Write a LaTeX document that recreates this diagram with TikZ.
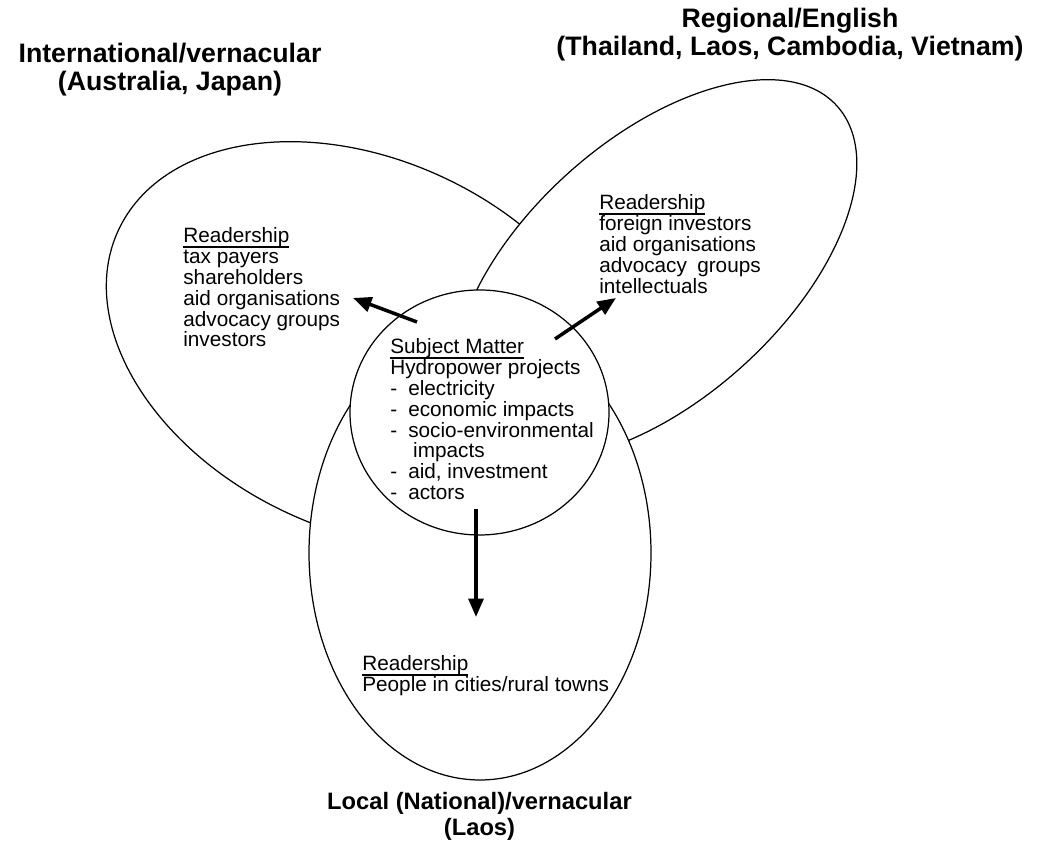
\documentclass[tikz,border=0pt]{standalone}
\usepackage{fontspec}
\setmainfont{Liberation Sans}
\usepackage{tikz}
\usetikzlibrary{arrows.meta, shapes.geometric}

\newcommand{\ulhead}[1]{\leavevmode\vtop{\hbox{#1}\kern-0.6pt\hrule height 1.1pt}}
\newcommand{\itm}{\makebox[10.2pt][l]{-}}

\tikzset{
  zone/.style={draw, ellipse, fill=white, line width=0.7pt, inner sep=0pt},
  readers/.style={anchor=north west, align=left, inner sep=0pt,
    font=\fontsize{11.8}{11.9}\selectfont},
  heading/.style={anchor=base, align=center, inner sep=0pt,
    font=\fontsize{15.2}{16}\selectfont\bfseries},
  flow/.style={line width=2pt, -{Triangle[length=10.5pt, width=8.5pt]}}
}

\begin{document}
\begin{tikzpicture}
    \useasboundingbox (0,0) rectangle (20.78,16.9);
    % language zones, back to front
    \node[zone, minimum width=10.88cm, minimum height=7.4cm, rotate=-25] (intl) at (7.30,10.00) {};
    \node[zone, minimum width=9.8cm, minimum height=5.2cm, rotate=42] (regl) at (13.10,11.50) {};
    \node[zone, minimum width=6.84cm, minimum height=9.08cm] (locl) at (9.60,5.84) {};
    \node[zone, minimum width=5.18cm, minimum height=4.9cm] (subj) at (9.59,8.65) {};

    % headings (base = last line)
    \node[heading] (intl-h) at (3.40,15.08) {International/vernacular\\(Australia, Japan)};
    \node[heading] (regl-h) at (15.80,15.78) {Regional/English\\(Thailand, Laos, Cambodia, Vietnam)};
    \node[heading, font=\fontsize{13.5}{15}\selectfont\bfseries] (locl-h) at (9.59,0.18) {Local (National)/vernacular\\(Laos)};

    % readership
    \node[readers] (intl-r) at (3.66,12.36) {\ulhead{Readership}\\tax payers\\shareholders\\aid organisations\\advocacy groups\\investors};
    \node[readers] (regl-r) at (11.98,13.02) {\ulhead{Readership}\\foreign investors\\aid organisations\\advocacy\enspace groups\\intellectuals};
    \node[readers] (locl-r) at (7.24,3.80) {\ulhead{Readership}\\People in cities/rural towns};
    \node[readers] (subj-t) at (7.80,10.14) {\ulhead{Subject Matter}\\Hydropower projects\\
      \itm electricity\\\itm economic impacts\\\itm socio-environmental\\
      \hspace*{13pt}impacts\\\itm aid, investment\\\itm actors};

    % arrows out of the subject matter
    \coordinate (to-intl) at (7.06,10.94);
    \coordinate (to-regl) at (12.32,10.94);
    \coordinate (to-locl) at (9.52,4.56);
    \coordinate (from-intl) at (8.34,10.46);
    \coordinate (from-regl) at (11.10,10.12);
    \coordinate (from-locl) at (9.52,6.72);
    \draw[flow] (from-intl) -- (to-intl);
    \draw[flow] (from-regl) -- (to-regl);
    \draw[flow] (from-locl) -- (to-locl);
  \end{tikzpicture}
\end{document}
